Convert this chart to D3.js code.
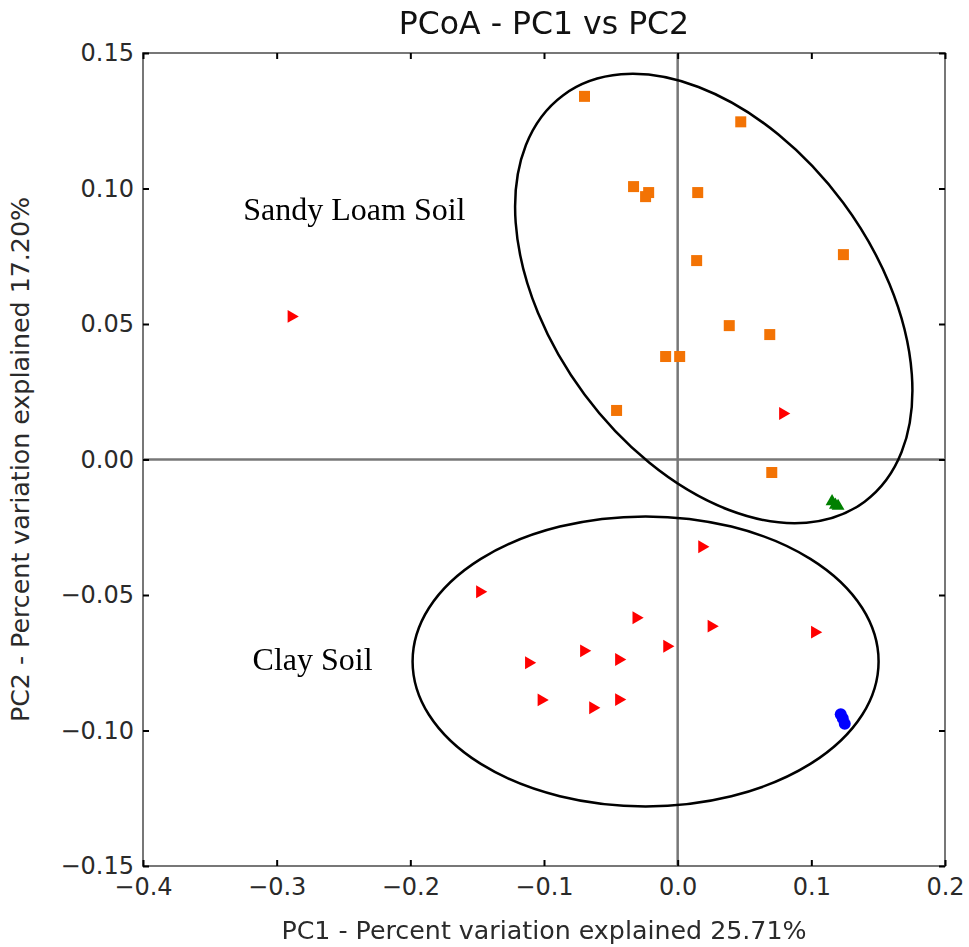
<!DOCTYPE html>
<html>
<head>
<meta charset="utf-8">
<script src="https://cdn.jsdelivr.net/npm/d3@7"></script>
<style>
  html, body { margin: 0; padding: 0; background: #fff; }
  svg { display: block; }
</style>
</head>
<body>
<svg id="chart" width="969" height="947"></svg>
<script>
// PCoA sample coordinates (PC1, PC2) grouped by treatment
const orangeSamples = [
  [-0.0697, 0.1340], [0.0472, 0.1246], [-0.0330, 0.1007], [-0.0217, 0.0985],
  [-0.0240, 0.0970], [0.0150, 0.0985], [0.0142, 0.0734], [0.1240, 0.0756],
  [0.0386, 0.0494], [0.0689, 0.0461], [-0.0090, 0.0380], [0.0015, 0.0380],
  [-0.0457, 0.0181], [0.0704, -0.0048]
];
const redSamples = [
  [-0.2890, 0.0528], [0.0787, 0.0170], [-0.1480, -0.0488], [-0.0310, -0.0584],
  [-0.0080, -0.0689], [-0.0702, -0.0706], [-0.0440, -0.0738], [-0.1114, -0.0750],
  [-0.1020, -0.0887], [-0.0634, -0.0916], [-0.0440, -0.0886], [0.0182, -0.0322],
  [0.0252, -0.0615], [0.1026, -0.0637]
];
const greenSamples = [[0.1155, -0.0155], [0.1180, -0.0168], [0.1200, -0.0172]];
const blueSamples = [[0.1220, -0.0940], [0.1235, -0.0955], [0.1250, -0.0975]];

// Group outlines: centre in PC units, radii (px) and rotation (deg)
const groupEllipses = [
  { name: "Sandy Loam Soil", cx: 0.0270, cy: 0.0594, rx: 253, ry: 161, angle: 53.4 },
  { name: "Clay Soil", cx: -0.0240, cy: -0.0745, rx: 233, ry: 145, angle: 0 }
];
const groupLabels = [
  { text: "Sandy Loam Soil", x: -0.3250, y: 0.0885 },
  { text: "Clay Soil", x: -0.3180, y: -0.0777 }
];

const xTicks = [-0.4, -0.3, -0.2, -0.1, 0.0, 0.1, 0.2];
const yTicks = [-0.15, -0.10, -0.05, 0.00, 0.05, 0.10, 0.15];
const xDomain = [-0.4, 0.2];
const yDomain = [-0.15, 0.15];

const titleText = "PCoA - PC1 vs PC2";
const xLabelText = "PC1 - Percent variation explained 25.71%";
const yLabelText = "PC2 - Percent variation explained 17.20%";

const margin = { left: 143, right: 24, top: 53, bottom: 81 };
const W = 969, H = 947;
const svg = d3.select("#chart");
const font = "'DejaVu Sans', sans-serif";

const x = d3.scaleLinear().domain(xDomain).range([margin.left, W - margin.right]);
const y = d3.scaleLinear().domain(yDomain).range([H - margin.bottom, margin.top]);

const defs = svg.append("defs");
defs.append("filter").attr("id", "soft")
  .attr("x", "-50%").attr("y", "-50%").attr("width", "200%").attr("height", "200%")
  .append("feGaussianBlur").attr("stdDeviation", 0.6);

const minus = s => s.replace("-", "\u2212");
const grey = "#777";
const textColor = "#2a2a2a";

// zero lines
svg.append("line")
  .attr("x1", x(0)).attr("x2", x(0)).attr("y1", y(yDomain[0])).attr("y2", y(yDomain[1]))
  .attr("stroke", grey).attr("stroke-width", 2.5);
svg.append("line")
  .attr("x1", x(xDomain[0])).attr("x2", x(xDomain[1])).attr("y1", y(0)).attr("y2", y(0))
  .attr("stroke", grey).attr("stroke-width", 2.5);

// group ellipses
svg.append("g").selectAll("ellipse").data(groupEllipses).join("ellipse")
  .attr("transform", d => `translate(${x(d.cx)},${y(d.cy)}) rotate(${d.angle})`)
  .attr("rx", d => d.rx).attr("ry", d => d.ry)
  .attr("fill", "none").attr("stroke", "#000").attr("stroke-width", 2.5);

// spines
svg.append("rect")
  .attr("x", x(xDomain[0])).attr("y", y(yDomain[1]))
  .attr("width", x(xDomain[1]) - x(xDomain[0])).attr("height", y(yDomain[0]) - y(yDomain[1]))
  .attr("fill", "none").attr("stroke", grey).attr("stroke-width", 2);

// axes with inward ticks
const fmtX = d => minus(d3.format(".1f")(d));
const fmtY = d => minus(d3.format(".2f")(d));
function styleAxis(g, showLabels) {
  g.select(".domain").remove();
  g.selectAll(".tick line").attr("stroke", "#000").attr("stroke-width", 2);
  g.selectAll(".tick text").attr("fill", textColor).style("font-family", font).style("font-size", "24px");
  if (!showLabels) g.selectAll(".tick text").remove();
}
svg.append("g").attr("transform", `translate(0,${y(yDomain[0])})`)
  .call(d3.axisBottom(x).tickValues(xTicks).tickFormat(fmtX).tickSize(-6).tickPadding(12))
  .call(g => styleAxis(g, true));
svg.append("g").attr("transform", `translate(0,${y(yDomain[1])})`)
  .call(d3.axisTop(x).tickValues(xTicks).tickSize(-6))
  .call(g => styleAxis(g, false));
svg.append("g").attr("transform", `translate(${x(xDomain[0])},0)`)
  .call(d3.axisLeft(y).tickValues(yTicks).tickFormat(fmtY).tickSize(-6).tickPadding(9))
  .call(g => styleAxis(g, true));
svg.append("g").attr("transform", `translate(${x(xDomain[1])},0)`)
  .call(d3.axisRight(y).tickValues(yTicks).tickSize(-6))
  .call(g => styleAxis(g, false));

// markers
svg.append("g").selectAll("rect").data(orangeSamples).join("rect")
  .attr("x", d => x(d[0]) - 5.5).attr("y", d => y(d[1]) - 5.5)
  .attr("width", 11).attr("height", 11).attr("fill", "#f37304");

const triRight = d3.symbol(d3.symbolTriangle, 72);
svg.append("g").attr("filter", "url(#soft)").selectAll("path").data(redSamples).join("path")
  .attr("d", triRight)
  .attr("transform", d => `translate(${x(d[0])},${y(d[1])}) rotate(90)`)
  .attr("fill", "#ff0000");

svg.append("g").attr("filter", "url(#soft)").selectAll("path").data(greenSamples).join("path")
  .attr("d", d3.symbol(d3.symbolTriangle, 72))
  .attr("transform", d => `translate(${x(d[0])},${y(d[1])})`)
  .attr("fill", "#008000");

svg.append("g").attr("filter", "url(#soft)").selectAll("circle").data(blueSamples).join("circle")
  .attr("cx", d => x(d[0])).attr("cy", d => y(d[1])).attr("r", 6)
  .attr("fill", "#0000ff");

// group labels
svg.append("g").selectAll("text").data(groupLabels).join("text")
  .attr("x", d => x(d.x)).attr("y", d => y(d.y))
  .style("font-family", "'Liberation Serif', 'Times New Roman', serif")
  .style("font-size", "32px").attr("fill", "#000")
  .text(d => d.text);

// title and axis labels
const cx = (x(xDomain[0]) + x(xDomain[1])) / 2;
svg.append("text").attr("x", cx).attr("y", 34).attr("text-anchor", "middle")
  .style("font-family", font).style("font-size", "31.5px").attr("fill", "#111")
  .text(titleText);
svg.append("text").attr("x", cx).attr("y", 939).attr("text-anchor", "middle")
  .style("font-family", font).style("font-size", "25.3px").attr("fill", textColor)
  .text(xLabelText);
svg.append("text")
  .attr("transform", `translate(29,${(y(yDomain[0]) + y(yDomain[1])) / 2}) rotate(-90)`)
  .attr("text-anchor", "middle")
  .style("font-family", font).style("font-size", "25.3px").attr("fill", textColor)
  .text(yLabelText);
</script>
</body>
</html>
